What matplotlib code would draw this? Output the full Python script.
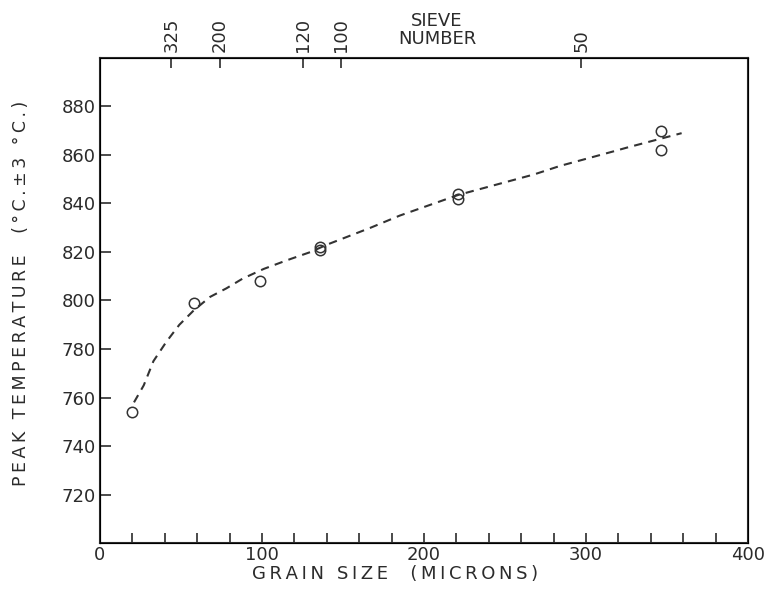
import numpy as np
import matplotlib
matplotlib.use("Agg")
import matplotlib.pyplot as plt
from matplotlib.ticker import MultipleLocator

# measured points (grain size in microns, peak temperature in deg C)
grain_size = [20, 58, 99, 136, 136, 221, 221, 346, 346]
peak_temp = [754, 799, 808, 822, 821, 844, 842, 870, 862]

# hand-drawn trend curve
curve_x = [21, 27, 33, 41, 49, 58, 68, 78, 88, 101, 115, 130, 140, 167, 185,
           221, 268, 284, 317, 325, 359]
curve_y = [758, 765, 775, 783, 790, 796, 801.5, 805, 809, 813, 816.5, 820,
           823, 830, 835, 843.5, 852, 855.5, 861.5, 863, 869]

# sieve numbers and their openings in microns
sieve_numbers = ["325", "200", "120", "100", "50"]
sieve_openings = [44, 74, 125, 149, 297]

ink = "#2b2b2b"
plt.rcParams["font.family"] = ["DejaVu Sans"]


def spaced(s):
    # stencil lettering is wide, pad letters with thin spaces
    return "\u2009".join(s)


fig = plt.figure(figsize=(7.72, 5.91), dpi=100)
ax = fig.add_axes([0.1295, 0.0812, 0.8395, 0.8207])

ax.plot(curve_x, curve_y, color="#333333", lw=1.5, linestyle=(0, (4, 3)))
ax.plot(grain_size, peak_temp, linestyle="none", marker="o", ms=7.5,
        mfc="none", mec="#333333", mew=1.1)

ax.set_xlim(0, 400)
ax.set_ylim(700, 900)
ax.set_xticks([0, 100, 200, 300, 400])
ax.xaxis.set_minor_locator(MultipleLocator(20))
ax.set_yticks(np.arange(720, 881, 20))
ax.tick_params(axis="both", which="both", direction="in", colors=ink,
               labelsize=13, width=1.2)
ax.tick_params(axis="x", which="both", length=7, pad=2)
ax.tick_params(axis="y", length=8, pad=3)
for s in ax.spines.values():
    s.set_color(ink)
    s.set_linewidth(1.5)

ax.set_xlabel(spaced("GRAIN SIZE  (MICRONS)"), fontsize=13, color=ink)
ax.xaxis.set_label_coords(0.455, -0.045)
ax.set_ylabel(spaced("PEAK TEMPERATURE  (°C.±3 °C.)"), fontsize=12.5,
              color=ink)
ax.yaxis.set_label_coords(-0.108, 0.515)

top = ax.twiny()
top.set_xlim(ax.get_xlim())
top.set_xticks(sieve_openings)
top.set_xticklabels(sieve_numbers, rotation=90)
top.tick_params(axis="x", direction="in", length=7, width=1.2, colors=ink,
                labelsize=13, pad=4)
top.text(208, 1.02, "SIEVE\nNUMBER", transform=top.get_xaxis_transform(),
         ha="center", va="bottom", fontsize=13, color=ink, linespacing=1.0)

fig.savefig("out.png", dpi=100)
